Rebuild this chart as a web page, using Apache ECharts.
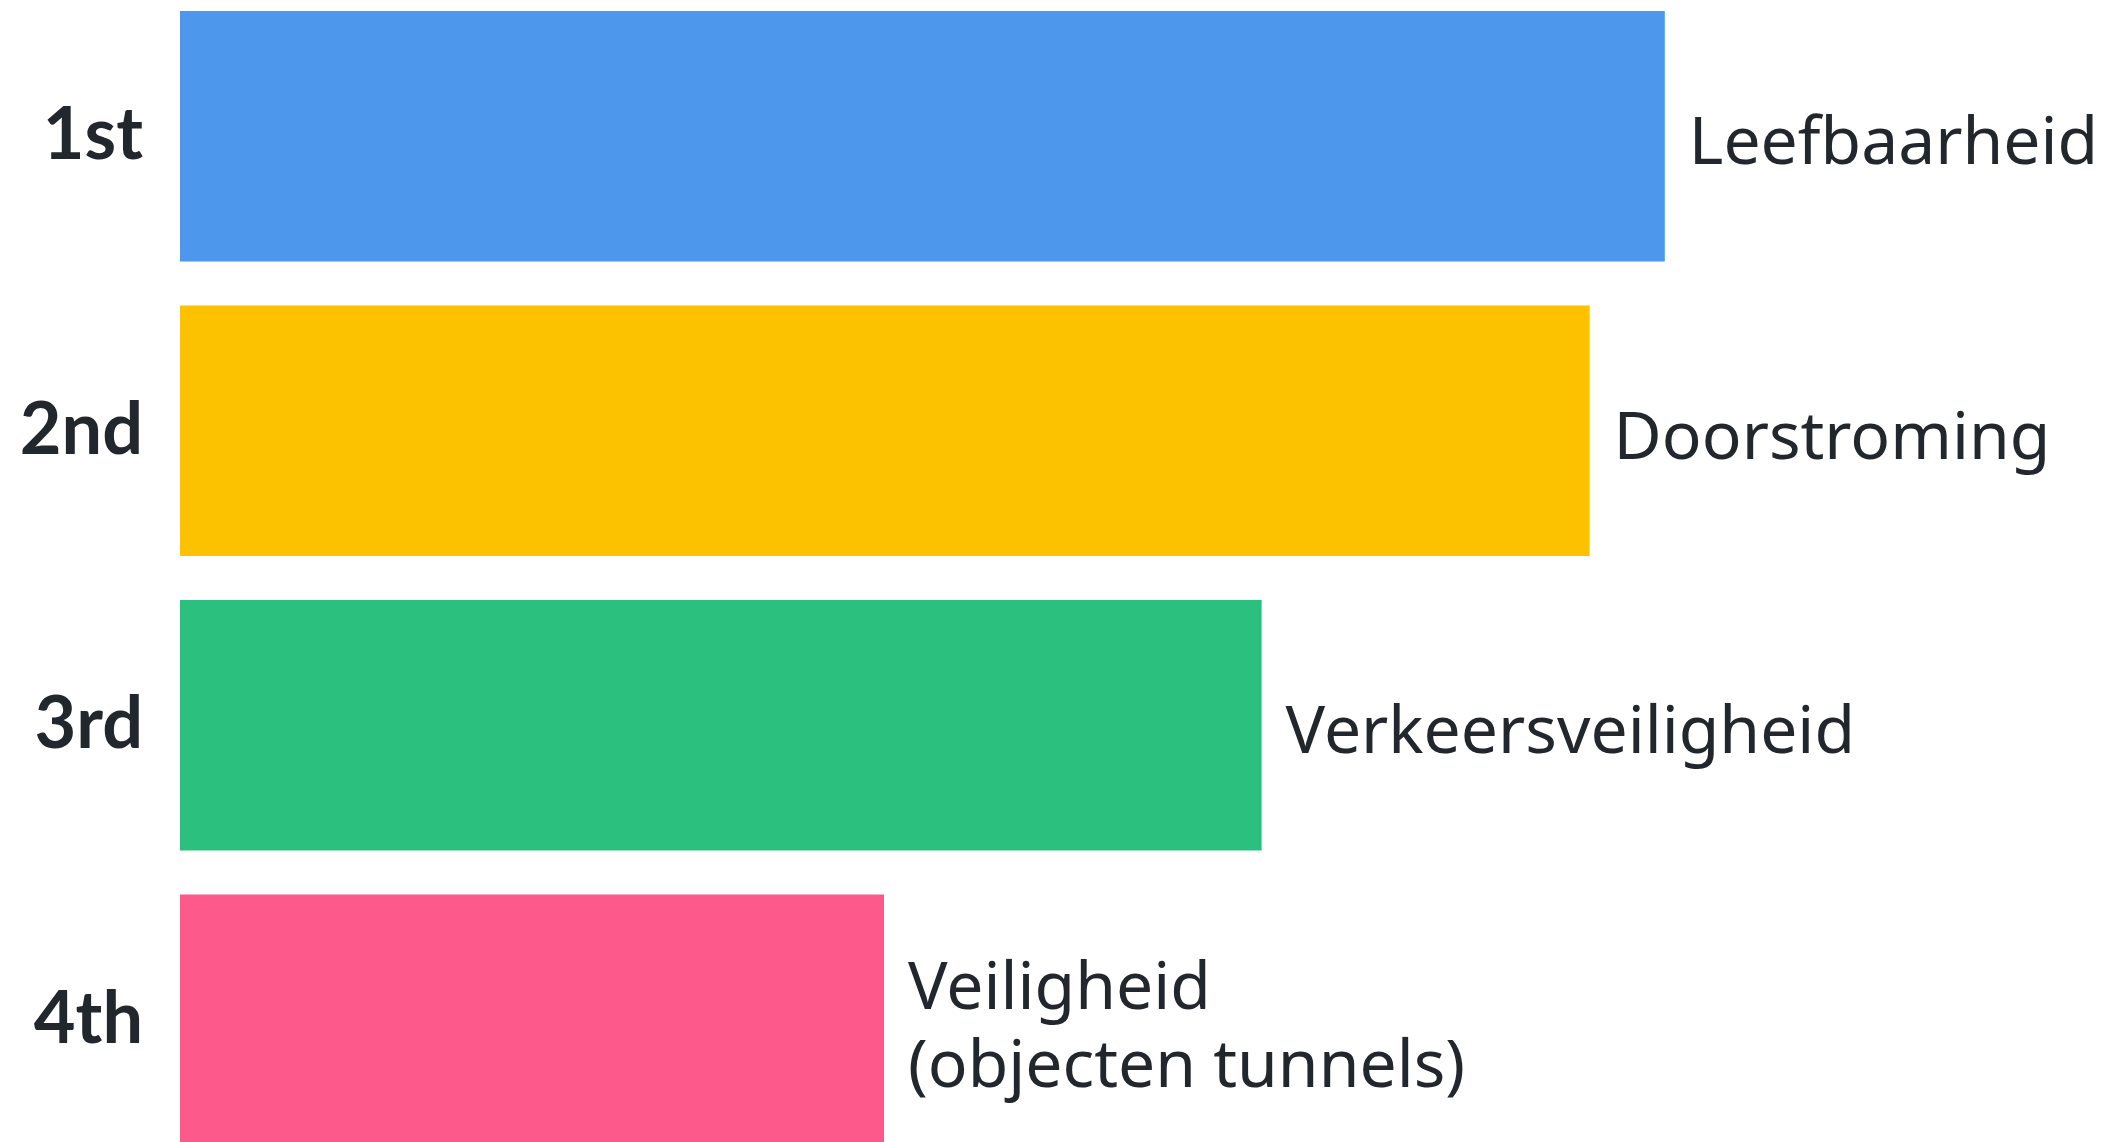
<!DOCTYPE html>
<html>
<head>
<meta charset="utf-8">
<script src="https://cdn.jsdelivr.net/npm/echarts@6/dist/echarts.min.js"></script>
<style>
html,body{margin:0;padding:0;background:#fff;}
#c{width:2121px;height:1142px;}
</style>
</head>
<body>
<div id="c"></div>
<script>
const ranks = ['1st', '2nd', '3rd', '4th'];
const names = ['Leefbaarheid', 'Doorstroming', 'Verkeersveiligheid', 'Veiligheid\n(objecten tunnels)'];
const values = [92.8, 88.1, 67.6, 44.0];
const colors = ['#4d98ec', '#fcc200', '#2bc07d', '#fd5a8b'];

const chart = echarts.init(document.getElementById('c'));
chart.setOption({
  animation: false,
  backgroundColor: '#ffffff',
  grid: { left: 180, right: 341, top: -11, bottom: -25, containLabel: false, outerBoundsMode: 'none' },
  xAxis: {
    type: 'value', min: 0, max: 100, show: false,
    splitLine: { show: false }
  },
  yAxis: {
    type: 'category', data: ranks, inverse: true,
    axisLine: { show: false }, axisTick: { show: false },
    axisLabel: {
      fontSize: 72, fontWeight: 'bold', color: '#22272e',
      fontFamily: 'Lato', margin: 37
    }
  },
  series: [{
    type: 'bar',
    barCategoryGap: '15%',
    data: values.map((v, i) => ({ value: v, itemStyle: { color: colors[i] } })),
    label: {
      show: true, position: 'right', distance: 24, offset: [0, 9],
      fontSize: 66, fontFamily: 'Noto Sans', color: '#22272e', lineHeight: 78,
      formatter: p => names[p.dataIndex]
    }
  }]
});
</script>
</body>
</html>
